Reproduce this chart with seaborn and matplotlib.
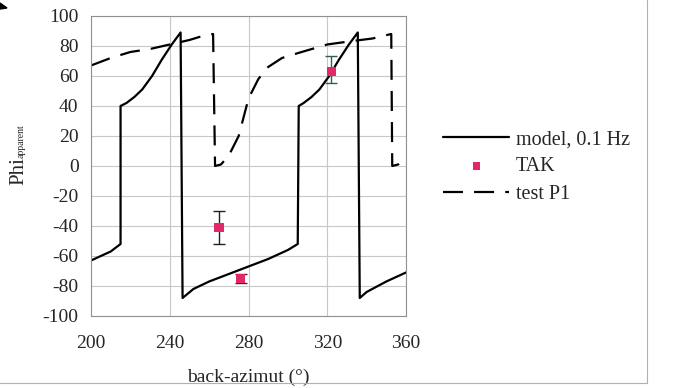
import numpy as np
import pandas as pd
import seaborn as sns
from matplotlib import pyplot as plt
from matplotlib.lines import Line2D
from matplotlib.patches import Polygon

# model curve, 0.1 Hz
model_az = [200, 205, 210, 215, 215, 218, 222, 226, 231, 236, 241, 245.5, 246.5,
            252, 260, 270, 280, 290, 300, 305, 305.5, 308, 312, 316, 321, 326, 331, 335.5, 336.5,
            340, 350, 360]
model_phi = [-63, -60, -57, -52, 40, 42, 46, 51, 60, 71, 81, 89, -88,
             -82, -77, -72, -67, -62, -56, -52, 40, 42, 46, 51, 60, 71, 81, 89, -88,
             -84, -77, -71]

# test P1 (dashed)
test_az = [200, 210, 220, 230, 240, 250, 255, 262, 263, 266, 270, 275, 280, 285, 290,
           297, 307, 320, 331, 343, 352.5, 353, 356, 360]
test_phi = [67, 72, 76, 78, 81, 84, 86, 88, 0, 1, 7, 20, 45, 58, 66,
            72, 76, 81, 83, 85, 88, 0, 1, 7]

# TAK measurements with error bars
tak_az = [265, 276, 322]
tak_phi = [-41, -75, 63]
tak_lo = [-52, -78, 55]
tak_hi = [-30, -72, 73]
bar_cols = ["#202020", "#303030", "#2f5f50"]

model = pd.DataFrame({"az": model_az, "phi": model_phi})
test = pd.DataFrame({"az": test_az, "phi": test_phi})
tak = pd.DataFrame({"az": tak_az, "phi": tak_phi})

sns.set_style("white")
plt.rcParams['font.family'] = ['Liberation Serif', 'DejaVu Serif']
plt.rcParams['axes.unicode_minus'] = False

W, H = 687, 388
fig = plt.figure(figsize=(6.87, 3.88), dpi=100)
ax = fig.add_axes([0.1325, 0.1856, 0.4585, 0.7732])

sns.lineplot(data=model, x="az", y="phi", sort=False, estimator=None, color="black",
             linewidth=1.6, ax=ax, label="model, 0.1 Hz")
for i in range(3):
    ax.errorbar(tak_az[i], tak_phi[i],
                yerr=[[tak_phi[i] - tak_lo[i]], [tak_hi[i] - tak_phi[i]]],
                fmt="none", ecolor=bar_cols[i], elinewidth=1, capsize=4, zorder=3)
sns.scatterplot(data=tak, x="az", y="phi", marker="s", s=45, color="#e0286a",
                edgecolor="none", ax=ax, label="TAK", zorder=4)
sns.lineplot(data=test, x="az", y="phi", sort=False, estimator=None, color="black",
             linewidth=1.6, dashes=False, ax=ax, label="test P1")
ax.lines[-1].set_dashes([9, 5])

ax.set_xlim(200, 360)
ax.set_ylim(-100, 100)
ax.set_xticks(np.arange(200, 361, 40))
ax.set_yticks(np.arange(-100, 101, 20))
ax.grid(True, color="#c8c8c8", linewidth=0.8)
for s in ax.spines.values():
    s.set_color("#909090")
    s.set_linewidth(0.8)
ax.tick_params(labelsize=14, length=0)
ax.tick_params(axis="x", pad=14)
ax.tick_params(axis="y", pad=9)
ax.set_xlabel("back-azimut (°)", fontsize=14, labelpad=12)
ax.set_ylabel("")

# y label: "Phi" with a small subscript "apparent"
fig.text(23 / W, 1 - 185 / H, "Phi", fontsize=15, rotation=90, rotation_mode="anchor",
         ha="left", va="baseline")
fig.text(24 / W, 1 - 157.5 / H, "apparent", fontsize=7, rotation=90, rotation_mode="anchor",
         ha="left", va="baseline")

leg = ax.legend(loc="center left", bbox_to_anchor=(1.06, 0.497), frameon=False,
                fontsize=14.5, handlelength=3.3, handletextpad=0.3, labelspacing=0.4,
                markerscale=0.8)

# frame lines and corner mark of the original picture
fig.add_artist(Line2D([647 / W, 647 / W], [5 / H, 1], color="#b0b0b0", linewidth=0.8))
fig.add_artist(Line2D([0, 647 / W], [5 / H, 5 / H], color="#b0b0b0", linewidth=0.8))
fig.add_artist(Polygon([[0, 1 - 3 / H], [0, 1 - 9 / H], [7 / W, 1 - 8 / H]],
                       closed=True, transform=fig.transFigure, color="black"))

fig.savefig("out.png", dpi=100)
